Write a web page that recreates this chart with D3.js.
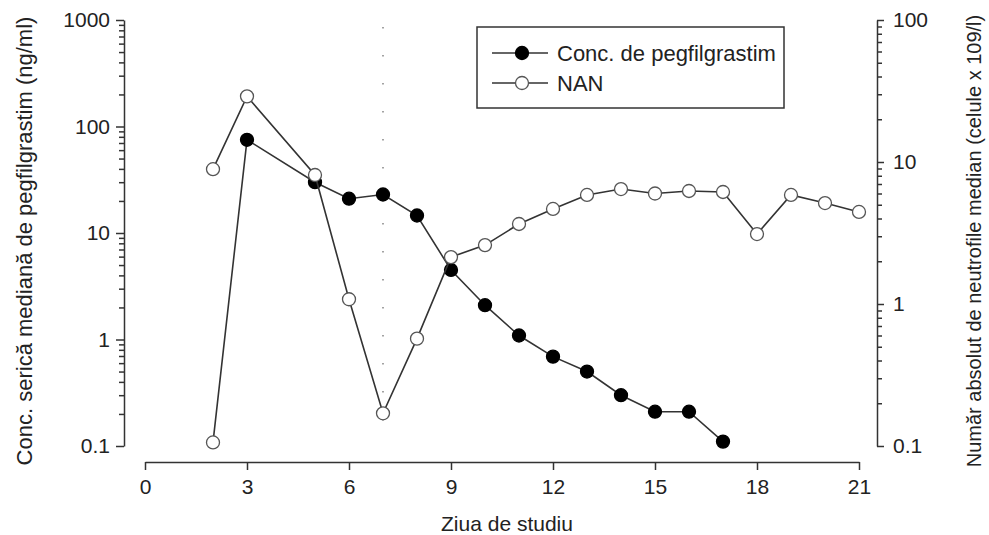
<!DOCTYPE html>
<html>
<head>
<meta charset="utf-8">
<script src="https://cdn.jsdelivr.net/npm/d3@7"></script>
<style>
  body { margin: 0; background: #fff; }
  text { font-family: "Liberation Sans", Arial, sans-serif; fill: #222; }
  .axis path, .axis line { stroke: #333; stroke-width: 1.5; }
</style>
</head>
<body>
<figure id="chart" style="margin:0"></figure>
<script>
// data
var days = [2, 3, 5, 6, 7, 8, 9, 10, 11, 12, 13, 14, 15, 16, 17];
var concValues = [0.108, 75, 30, 21, 23, 14.6, 4.5, 2.1, 1.09, 0.69, 0.5, 0.3, 0.21, 0.21, 0.11];

var nanDays = [2, 3, 5, 6, 7, 8, 9, 10, 11, 12, 13, 14, 15, 16, 17, 18, 19, 20, 21];
var nanValues = [8.9, 29, 8.1, 1.08, 0.17, 0.57, 2.14, 2.6, 3.66, 4.67, 5.86, 6.45, 6.0, 6.25, 6.15, 3.11, 5.86, 5.14, 4.45];

var xTicks = [0, 3, 6, 9, 12, 15, 18, 21];
var leftTicks = [0.1, 1, 10, 100, 1000];
var leftTickLabels = ["0.1", "1", "10", "100", "1000"];
var rightTicks = [0.1, 1, 10, 100];
var rightTickLabels = ["0.1", "1", "10", "100"];
var doseDay = 7;

var legendLabels = ["Conc. de pegfilgrastim", "NAN"];

var dimensions = {
    width: 989,
    height: 535,
    plotLeft: 145,
    plotRight: 859,
    plotTop: 20,
    plotBottom: 446,
    xAxisY: 462,
    leftAxisX: 124,
    rightAxisX: 877
};

var svg = d3.select("figure#chart")
    .append("svg")
    .attr("width", dimensions.width)
    .attr("height", dimensions.height);

// scales
var xScale = d3.scaleLinear()
    .domain([0, 21])
    .range([dimensions.plotLeft, dimensions.plotRight]);

var yLeft = d3.scaleLog()
    .domain([0.1, 1000])
    .range([dimensions.plotBottom, dimensions.plotTop]);

var yRight = d3.scaleLog()
    .domain([0.1, 100])
    .range([dimensions.plotBottom, dimensions.plotTop]);

// minor ticks for the log axes (2..9 in each decade)
var leftMinor = yLeft.ticks().filter(d => leftTicks.indexOf(d) < 0);
var rightMinor = yRight.ticks().filter(d => rightTicks.indexOf(d) < 0);

// x axis
var xAxis = svg.append("g")
    .attr("class", "x axis")
    .attr("transform", `translate(0, ${dimensions.xAxisY})`)
    .call(d3.axisBottom(xScale).tickValues(xTicks).tickSize(8).tickSizeOuter(0).tickPadding(9));

xAxis.selectAll("text").style("font-size", "21px");

// left axis
var leftAxis = svg.append("g")
    .attr("class", "y axis")
    .attr("transform", `translate(${dimensions.leftAxisX}, 0)`)
    .call(d3.axisLeft(yLeft).tickValues(leftTicks)
        .tickFormat((d, i) => leftTickLabels[i]).tickSize(8).tickSizeOuter(0).tickPadding(6));

leftAxis.selectAll("text").style("font-size", "21px");

svg.append("g")
    .attr("class", "y axis")
    .attr("transform", `translate(${dimensions.leftAxisX}, 0)`)
    .call(d3.axisLeft(yLeft).tickValues(leftMinor).tickFormat("").tickSize(5).tickSizeOuter(0))
    .select(".domain").remove();

// right axis
var rightAxis = svg.append("g")
    .attr("class", "y axis")
    .attr("transform", `translate(${dimensions.rightAxisX}, 0)`)
    .call(d3.axisRight(yRight).tickValues(rightTicks)
        .tickFormat((d, i) => rightTickLabels[i]).tickSize(7).tickSizeOuter(0).tickPadding(9));

rightAxis.selectAll("text").style("font-size", "21px");

svg.append("g")
    .attr("class", "y axis")
    .attr("transform", `translate(${dimensions.rightAxisX}, 0)`)
    .call(d3.axisRight(yRight).tickValues(rightMinor).tickFormat("").tickSize(5).tickSizeOuter(0))
    .select(".domain").remove();

// axis titles
svg.append("text")
    .attr("x", 507)
    .attr("y", 523)
    .attr("text-anchor", "middle")
    .attr("dominant-baseline", "central")
    .style("font-size", "21px")
    .text("Ziua de studiu");

svg.append("text")
    .attr("transform", "translate(24, 241) rotate(-90)")
    .attr("text-anchor", "middle")
    .attr("dominant-baseline", "central")
    .style("font-size", "22px")
    .text("Conc. serică mediană de pegfilgrastim (ng/ml)");

svg.append("text")
    .attr("transform", "translate(974, 241) rotate(-90)")
    .attr("text-anchor", "middle")
    .attr("dominant-baseline", "central")
    .style("font-size", "20px")
    .text("Număr absolut de neutrofile median (celule x 109/l)");

// dotted reference line at dosing day
svg.append("line")
    .attr("x1", xScale(doseDay))
    .attr("x2", xScale(doseDay))
    .attr("y1", dimensions.plotTop + 7)
    .attr("y2", dimensions.plotBottom)
    .attr("stroke", "#666")
    .attr("stroke-width", 1.2)
    .attr("stroke-dasharray", "1.5,26.5");

// lines
var concData = days.map((d, i) => ({ day: d, value: concValues[i] }));
var nanData = nanDays.map((d, i) => ({ day: d, value: nanValues[i] }));

var concLine = d3.line().x(d => xScale(d.day)).y(d => yLeft(d.value));
var nanLine = d3.line().x(d => xScale(d.day)).y(d => yRight(d.value));

svg.append("path")
    .datum(concData)
    .attr("d", concLine)
    .attr("fill", "none")
    .attr("stroke", "#333")
    .attr("stroke-width", 1.6);

// first conc point (below quantification) is drawn open
svg.selectAll("circle.conc")
    .data(concData)
    .enter()
    .append("circle")
    .attr("class", "conc")
    .attr("cx", d => xScale(d.day))
    .attr("cy", d => yLeft(d.value))
    .attr("r", 6.5)
    .attr("fill", (d, i) => i === 0 ? "#fff" : "#000")
    .attr("stroke", (d, i) => i === 0 ? "#555" : "#000")
    .attr("stroke-width", 1.3);

svg.append("path")
    .datum(nanData)
    .attr("d", nanLine)
    .attr("fill", "none")
    .attr("stroke", "#333")
    .attr("stroke-width", 1.6);

svg.selectAll("circle.nan")
    .data(nanData)
    .enter()
    .append("circle")
    .attr("class", "nan")
    .attr("cx", d => xScale(d.day))
    .attr("cy", d => yRight(d.value))
    .attr("r", 6.5)
    .attr("fill", "#fff")
    .attr("stroke", "#555")
    .attr("stroke-width", 1.3);

// legend
var legend = svg.append("g").attr("transform", "translate(477, 27)");

legend.append("rect")
    .attr("width", 307)
    .attr("height", 81)
    .attr("fill", "#fff")
    .attr("stroke", "#333")
    .attr("stroke-width", 1.5);

legendLabels.forEach((label, i) => {
    var ly = 26 + i * 30;
    legend.append("line")
        .attr("x1", 15).attr("x2", 71)
        .attr("y1", ly).attr("y2", ly)
        .attr("stroke", "#333")
        .attr("stroke-width", 1.6);
    legend.append("circle")
        .attr("cx", 45).attr("cy", ly).attr("r", 6.5)
        .attr("fill", i === 0 ? "#000" : "#fff")
        .attr("stroke", i === 0 ? "#000" : "#555")
        .attr("stroke-width", 1.3);
    legend.append("text")
        .attr("x", 80).attr("y", ly)
        .attr("dominant-baseline", "central")
        .style("font-size", "22px")
        .text(label);
});
</script>
</body>
</html>
